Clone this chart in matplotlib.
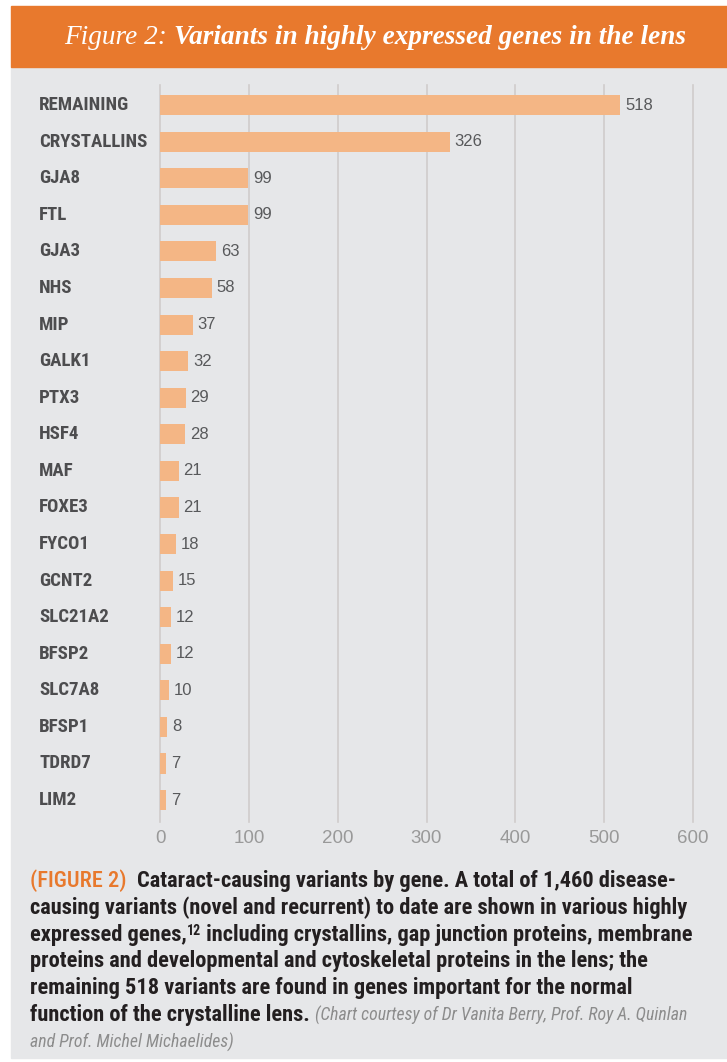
import matplotlib
matplotlib.use("Agg")
import matplotlib.pyplot as plt
import matplotlib.transforms as mtransforms
from matplotlib import font_manager
from matplotlib.patches import Rectangle

genes = ["REMAINING", "CRYSTALLINS", "GJA8", "FTL", "GJA3", "NHS", "MIP", "GALK1",
         "PTX3", "HSF4", "MAF", "FOXE3", "FYCO1", "GCNT2", "SLC21A2", "BFSP2",
         "SLC7A8", "BFSP1", "TDRD7", "LIM2"]
variants = [518, 326, 99, 99, 63, 58, 37, 32, 29, 28, 21, 21, 18, 15, 12, 12, 10, 8, 7, 7]
xticks = [0, 100, 200, 300, 400, 500, 600]

title_a = "Figure 2: "
title_b = "Variants in highly expressed genes in the lens"

# pick a condensed sans if one is installed
fl = font_manager.fontManager.ttflist
names = {f.name for f in fl}
cond = dict(family="Liberation Sans")
for cand in ["Liberation Sans Narrow", "Roboto Condensed", "Open Sans Condensed", "DejaVu Sans Condensed"]:
    if cand in names:
        cond = dict(family=cand)
        break
serif = "Liberation Serif"
plain = "Liberation Sans"

W, H = 727, 1062
fig = plt.figure(figsize=(W / 100, H / 100), dpi=100)
fig.patch.set_facecolor("white")

# panel + header
fig.patches.append(Rectangle((11 / W, 1 - 1058 / H), 1, (1058 - 67) / H,
                             transform=fig.transFigure, color="#E6E7E9", zorder=-2))
fig.patches.append(Rectangle((11 / W, 1 - 67 / H), 1, 61 / H,
                             transform=fig.transFigure, color="#E8792D", zorder=-2))

ax = fig.add_axes([160 / W, 1 - 822 / H, (693 - 160) / W, (822 - 85) / H])
ax.set_zorder(2)
ax.set_facecolor("none")
ypos = list(range(len(genes)))
ax.barh(ypos, variants, height=0.55, color="#F4B685", zorder=3)
ax.set_xlim(0, 600)
ax.set_ylim(19.6, -0.55)
for x in xticks:
    ax.axvline(x, color="#D0CCCC", lw=1.2, zorder=1, clip_on=False)
for s in ax.spines.values():
    s.set_visible(False)
ax.set_yticks([])
ax.set_xticks(xticks)
ax.set_xticklabels([str(t) for t in xticks], fontsize=13.5, color="#999999", family=plain)
ax.tick_params(axis="x", length=0, pad=6)

for i, v in enumerate(variants):
    ax.annotate(str(v), (v, i), xytext=(3.5, 0), textcoords="offset points",
                va="center", ha="left", fontsize=12, color="#58595B", family=plain)

tr = mtransforms.blended_transform_factory(fig.transFigure, ax.transData)
for i, g in enumerate(genes):
    ax.text(39 / W, i, g, transform=tr, ha="left", va="center", fontsize=13.6,
            fontweight="bold", color="#4D4D4F", **cond)

fig.canvas.draw()
renderer = fig.canvas.get_renderer()


def put_runs(x_px, y_px, runs):
    x = x_px
    for text, kw in runs:
        t = fig.text(x / W, 1 - y_px / H, text, ha="left", va="baseline", **kw)
        x += t.get_window_extent(renderer).width
    return x


white_it = dict(color="white", family=serif, style="italic", fontsize=19.6)
put_runs(64, 44, [(title_a, white_it), (title_b, dict(white_it, fontweight="bold"))])

body = dict(color="#231F20", fontweight="bold", fontsize=16.1, **cond)
orange = dict(body, color="#E8792D", fontweight="medium")
gray_it = dict(color="#8C8C8C", style="italic", fontsize=12.8, **cond)
sup = dict(body, fontsize=10)

caption = [
    [("(FIGURE 2)  ", orange), ("Cataract-causing variants by gene. A total of 1,460 disease-", body)],
    [("causing variants (novel and recurrent) to date are shown in various highly", body)],
    [("expressed genes,", body), ("12", sup), (" including crystallins, gap junction proteins, membrane", body)],
    [("proteins and developmental and cytoskeletal proteins in the lens; the", body)],
    [("remaining 518 variants are found in genes important for the normal", body)],
    [("function of the crystalline lens. ", body), ("(Chart courtesy of Dr Vanita Berry, Prof. Roy A. Quinlan", gray_it)],
    [("and Prof. Michel Michaelides)", gray_it)],
]
y0 = 887
for k, runs in enumerate(caption):
    yb = y0 + k * 26.8
    x = 30
    for text, kw in runs:
        dy = -6 if kw is sup else 0
        t = fig.text(x / W, 1 - (yb + dy) / H, text, ha="left", va="baseline", **kw)
        x += t.get_window_extent(renderer).width

fig.savefig("out.png", dpi=100, facecolor=fig.get_facecolor())
